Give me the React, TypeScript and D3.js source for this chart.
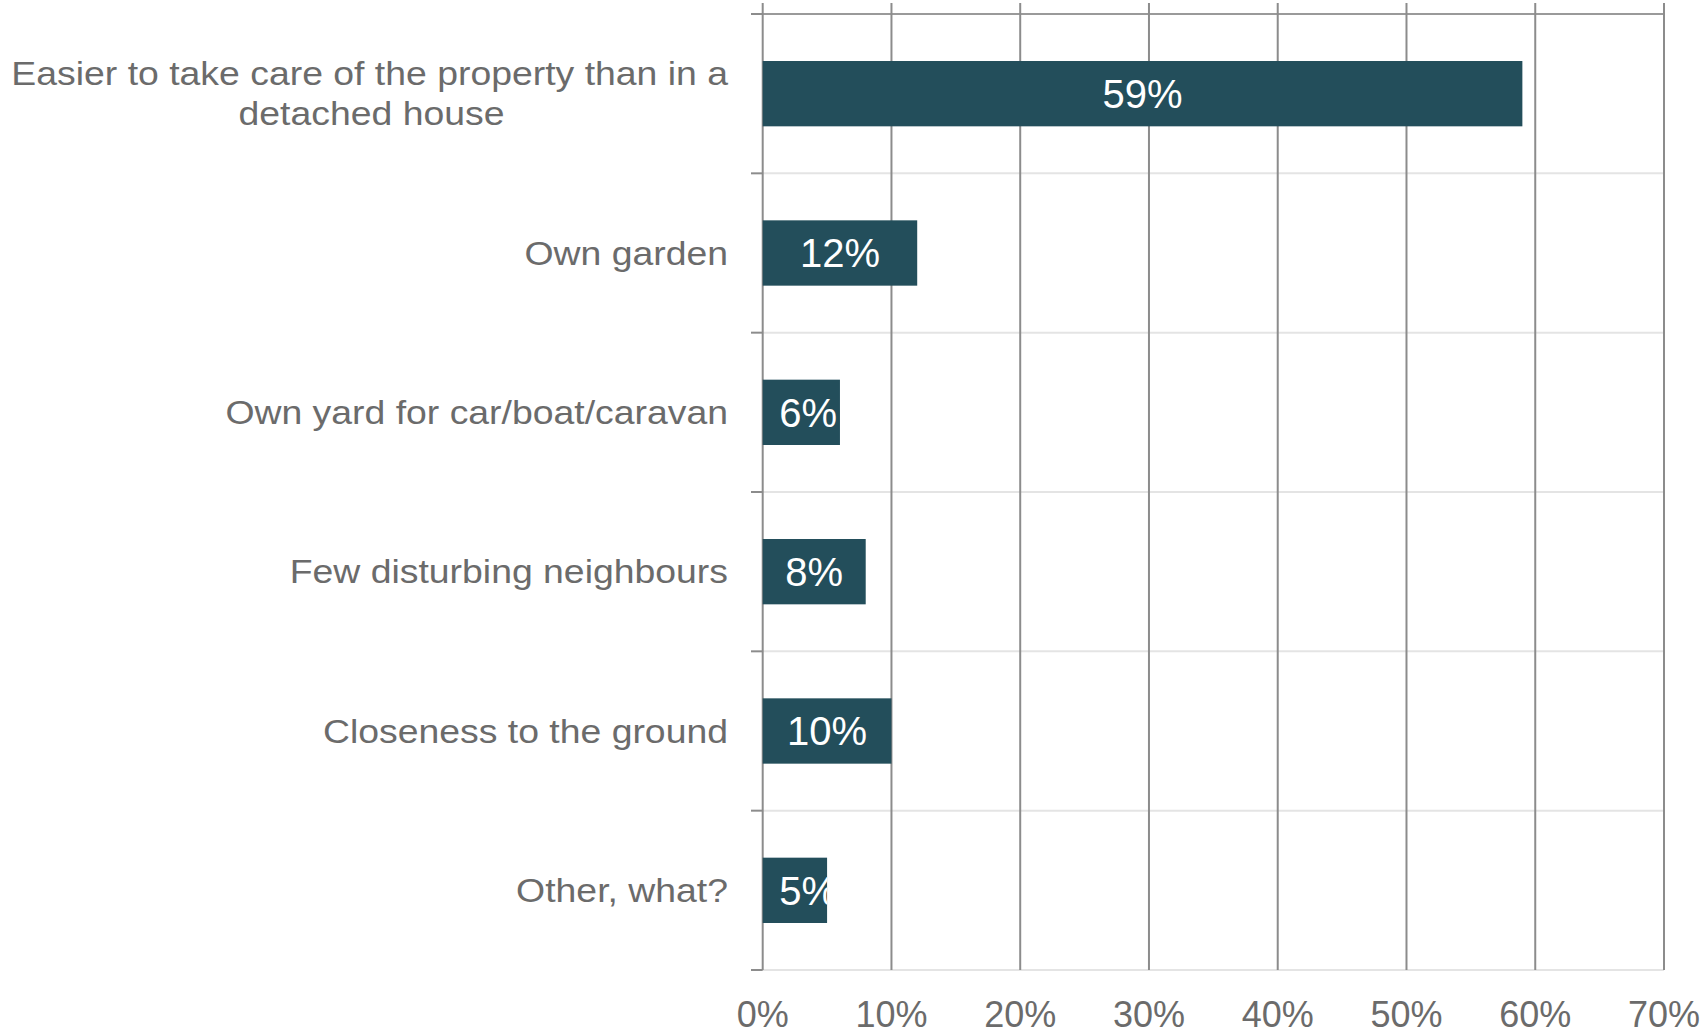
import React from "react";
import * as d3 from "d3";

const categories: string[][] = [
  ["Easier to take care of the property than in a", "detached house"],
  ["Own garden"],
  ["Own yard for car/boat/caravan"],
  ["Few disturbing neighbours"],
  ["Closeness to the ground"],
  ["Other, what?"],
];
const values: number[] = [59, 12, 6, 8, 10, 5];
const xTicks: number[] = [0, 10, 20, 30, 40, 50, 60, 70];

const W = 1706;
const H = 1035;
const FONT = "'Liberation Sans', Arial, sans-serif";
const TEXT = "#6b6b6b";
const BAR = "#234e5b";
const CAT_FS = 32.5;
const CAT_SX = 1.15;
const LABEL_FS = 40;

export default function App() {
  const left = 762.7;
  const right = 1664;
  const top = 14;
  const bottom = 970;

  const x = d3.scaleLinear().domain([0, 70]).range([left, right]);
  const ids = categories.map((_, i) => String(i));
  const y = d3.scaleBand().domain(ids).range([top, bottom]).paddingInner(0.59).paddingOuter(0.295);
  const band = (bottom - top) / categories.length;
  const boundaries = d3.range(categories.length + 1).map((i) => top + i * band);

  const labelWidth = (v: number) => (String(v).length * 0.556 + 0.889) * LABEL_FS;

  return (
    <svg width={W} height={H} style={{ position: "absolute", left: 0, top: 0, background: "#fff" }}>
      <defs>
        {values.map((v, i) => (
          <clipPath key={"cp" + i} id={"clip" + i}>
            <rect x={x(0)} y={y(ids[i])!} width={x(v) - x(0)} height={y.bandwidth()} />
          </clipPath>
        ))}
      </defs>
      {boundaries.map((b, i) => (
        <line key={"h" + i} x1={left} x2={right} y1={b} y2={b}
          stroke={i === 0 ? "#9a9a9a" : "#e4e4e4"} strokeWidth={2} />
      ))}
      {xTicks.map((t) => (
        <line key={"v" + t} x1={x(t)} x2={x(t)} y1={3} y2={bottom}
          stroke="#8c8c8c" strokeWidth={2} />
      ))}
      {boundaries.map((b, i) => (
        <line key={"t" + i} x1={751} x2={left} y1={b} y2={b} stroke="#8c8c8c" strokeWidth={2} />
      ))}
      {values.map((v, i) => (
        <rect key={"b" + i} x={x(0)} y={y(ids[i])!} width={x(v) - x(0)} height={y.bandwidth()} fill={BAR} />
      ))}
      {values.map((v, i) => {
        const w = labelWidth(v);
        const cx = (x(0) + x(v)) / 2;
        const lx = Math.max(cx - w / 2, x(0) + 16.5);
        return (
          <text key={"l" + i} x={lx} y={y(ids[i])! + y.bandwidth() / 2}
            dy="0.36em" textAnchor="start" fill="#ffffff" fontFamily={FONT} fontSize={LABEL_FS}
            clipPath={`url(#clip${i})`}>
            {v}%
          </text>
        );
      })}
      {categories.map((lines, i) => {
        const cy = y(ids[i])! + y.bandwidth() / 2;
        const lh = 40;
        const start = cy - ((lines.length - 1) * lh) / 2;
        return lines.map((ln, j) => {
          const multi = lines.length > 1 && j > 0;
          const ax = multi ? (15 + 728) / 2 : 728;
          return (
            <text key={"c" + i + "_" + j} fontFamily={FONT} fontSize={CAT_FS} fill={TEXT}
              x={ax} y={start + j * lh} dy="0.36em" textAnchor={multi ? "middle" : "end"}
              transform={`translate(${ax},0) scale(${CAT_SX},1) translate(${-ax},0)`}>
              {ln}
            </text>
          );
        });
      })}
      {xTicks.map((t) => (
        <text key={"x" + t} x={x(t)} y={1014.5} dy="0.36em" textAnchor="middle"
          fontFamily={FONT} fontSize={36} fill={TEXT}>
          {t}%
        </text>
      ))}
    </svg>
  );
}
